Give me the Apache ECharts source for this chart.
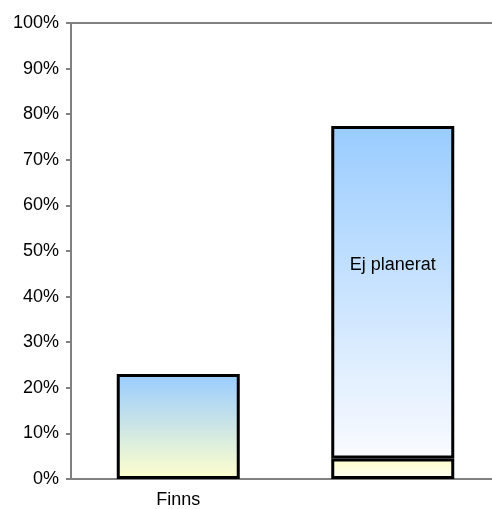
<!DOCTYPE html>
<html><head><meta charset="utf-8">
<script src="https://cdn.jsdelivr.net/npm/echarts@6/dist/echarts.min.js"></script>
<style>html,body{margin:0;padding:0;background:#fff;overflow:hidden;width:492px;height:509px}#c{width:500px;height:509px}</style>
</head><body><div id="c"></div>
<script>
var categories = ['Finns', ''];
var finnsValues = [23.0, '-'];
var baseValues = ['-', 4.5];
var ejPlaneratValues = ['-', 72.9];
var tickLabels = ['0%','10%','20%','30%','40%','50%','60%','70%','80%','90%','100%'];
var ejLabel = 'Ej planerat';

var font = 'Liberation Sans, Arial, sans-serif';
var chart = echarts.init(document.getElementById('c'));
function grad(top, bottom) {
  return new echarts.graphic.LinearGradient(0, 0, 0, 1, [{offset:0,color:top},{offset:1,color:bottom}]);
}
chart.setOption({
  animation: false,
  grid: {left: 71, top: 23, right: 0, bottom: 28, containLabel: false},
  xAxis: [{
    type: 'category', data: categories, position: 'bottom',
    axisLine: {lineStyle: {color: '#808080', width: 2}},
    axisTick: {show: false},
    axisLabel: {color: '#000', fontSize: 18, fontFamily: font, margin: 12},
    splitLine: {show: false}
  }, {
    type: 'category', data: categories, position: 'top',
    axisLine: {show: true, lineStyle: {color: '#808080', width: 2}},
    axisTick: {show: false}, axisLabel: {show: false}
  }],
  yAxis: {
    type: 'value', min: 0, max: 100, interval: 10,
    axisLine: {show: true, lineStyle: {color: '#808080', width: 2}},
    axisTick: {show: true, length: 5, lineStyle: {color: '#808080', width: 2}},
    axisLabel: {color: '#000', fontSize: 18, fontFamily: font, margin: 12,
      formatter: function (v) { return tickLabels[Math.round(v / 10)]; }},
    splitLine: {show: false}
  },
  series: [{
    type: 'bar', stack: 's', data: finnsValues, barWidth: 123,
    itemStyle: {color: grad('#99CCFF', '#FFFFCC'), borderColor: '#000', borderWidth: 3}
  }, {
    type: 'bar', stack: 's', data: baseValues, barWidth: 123,
    itemStyle: {color: grad('#FFFFCC', '#FFFFF4'), borderColor: '#000', borderWidth: 3}
  }, {
    type: 'bar', stack: 's', data: ejPlaneratValues, barWidth: 123,
    itemStyle: {color: grad('#99CCFF', '#FAFBFF'), borderColor: '#000', borderWidth: 3},
    label: {show: true, position: 'inside', offset: [0, -27], formatter: ejLabel,
      color: '#000', fontSize: 18, fontFamily: font}
  }]
});
</script></body></html>
